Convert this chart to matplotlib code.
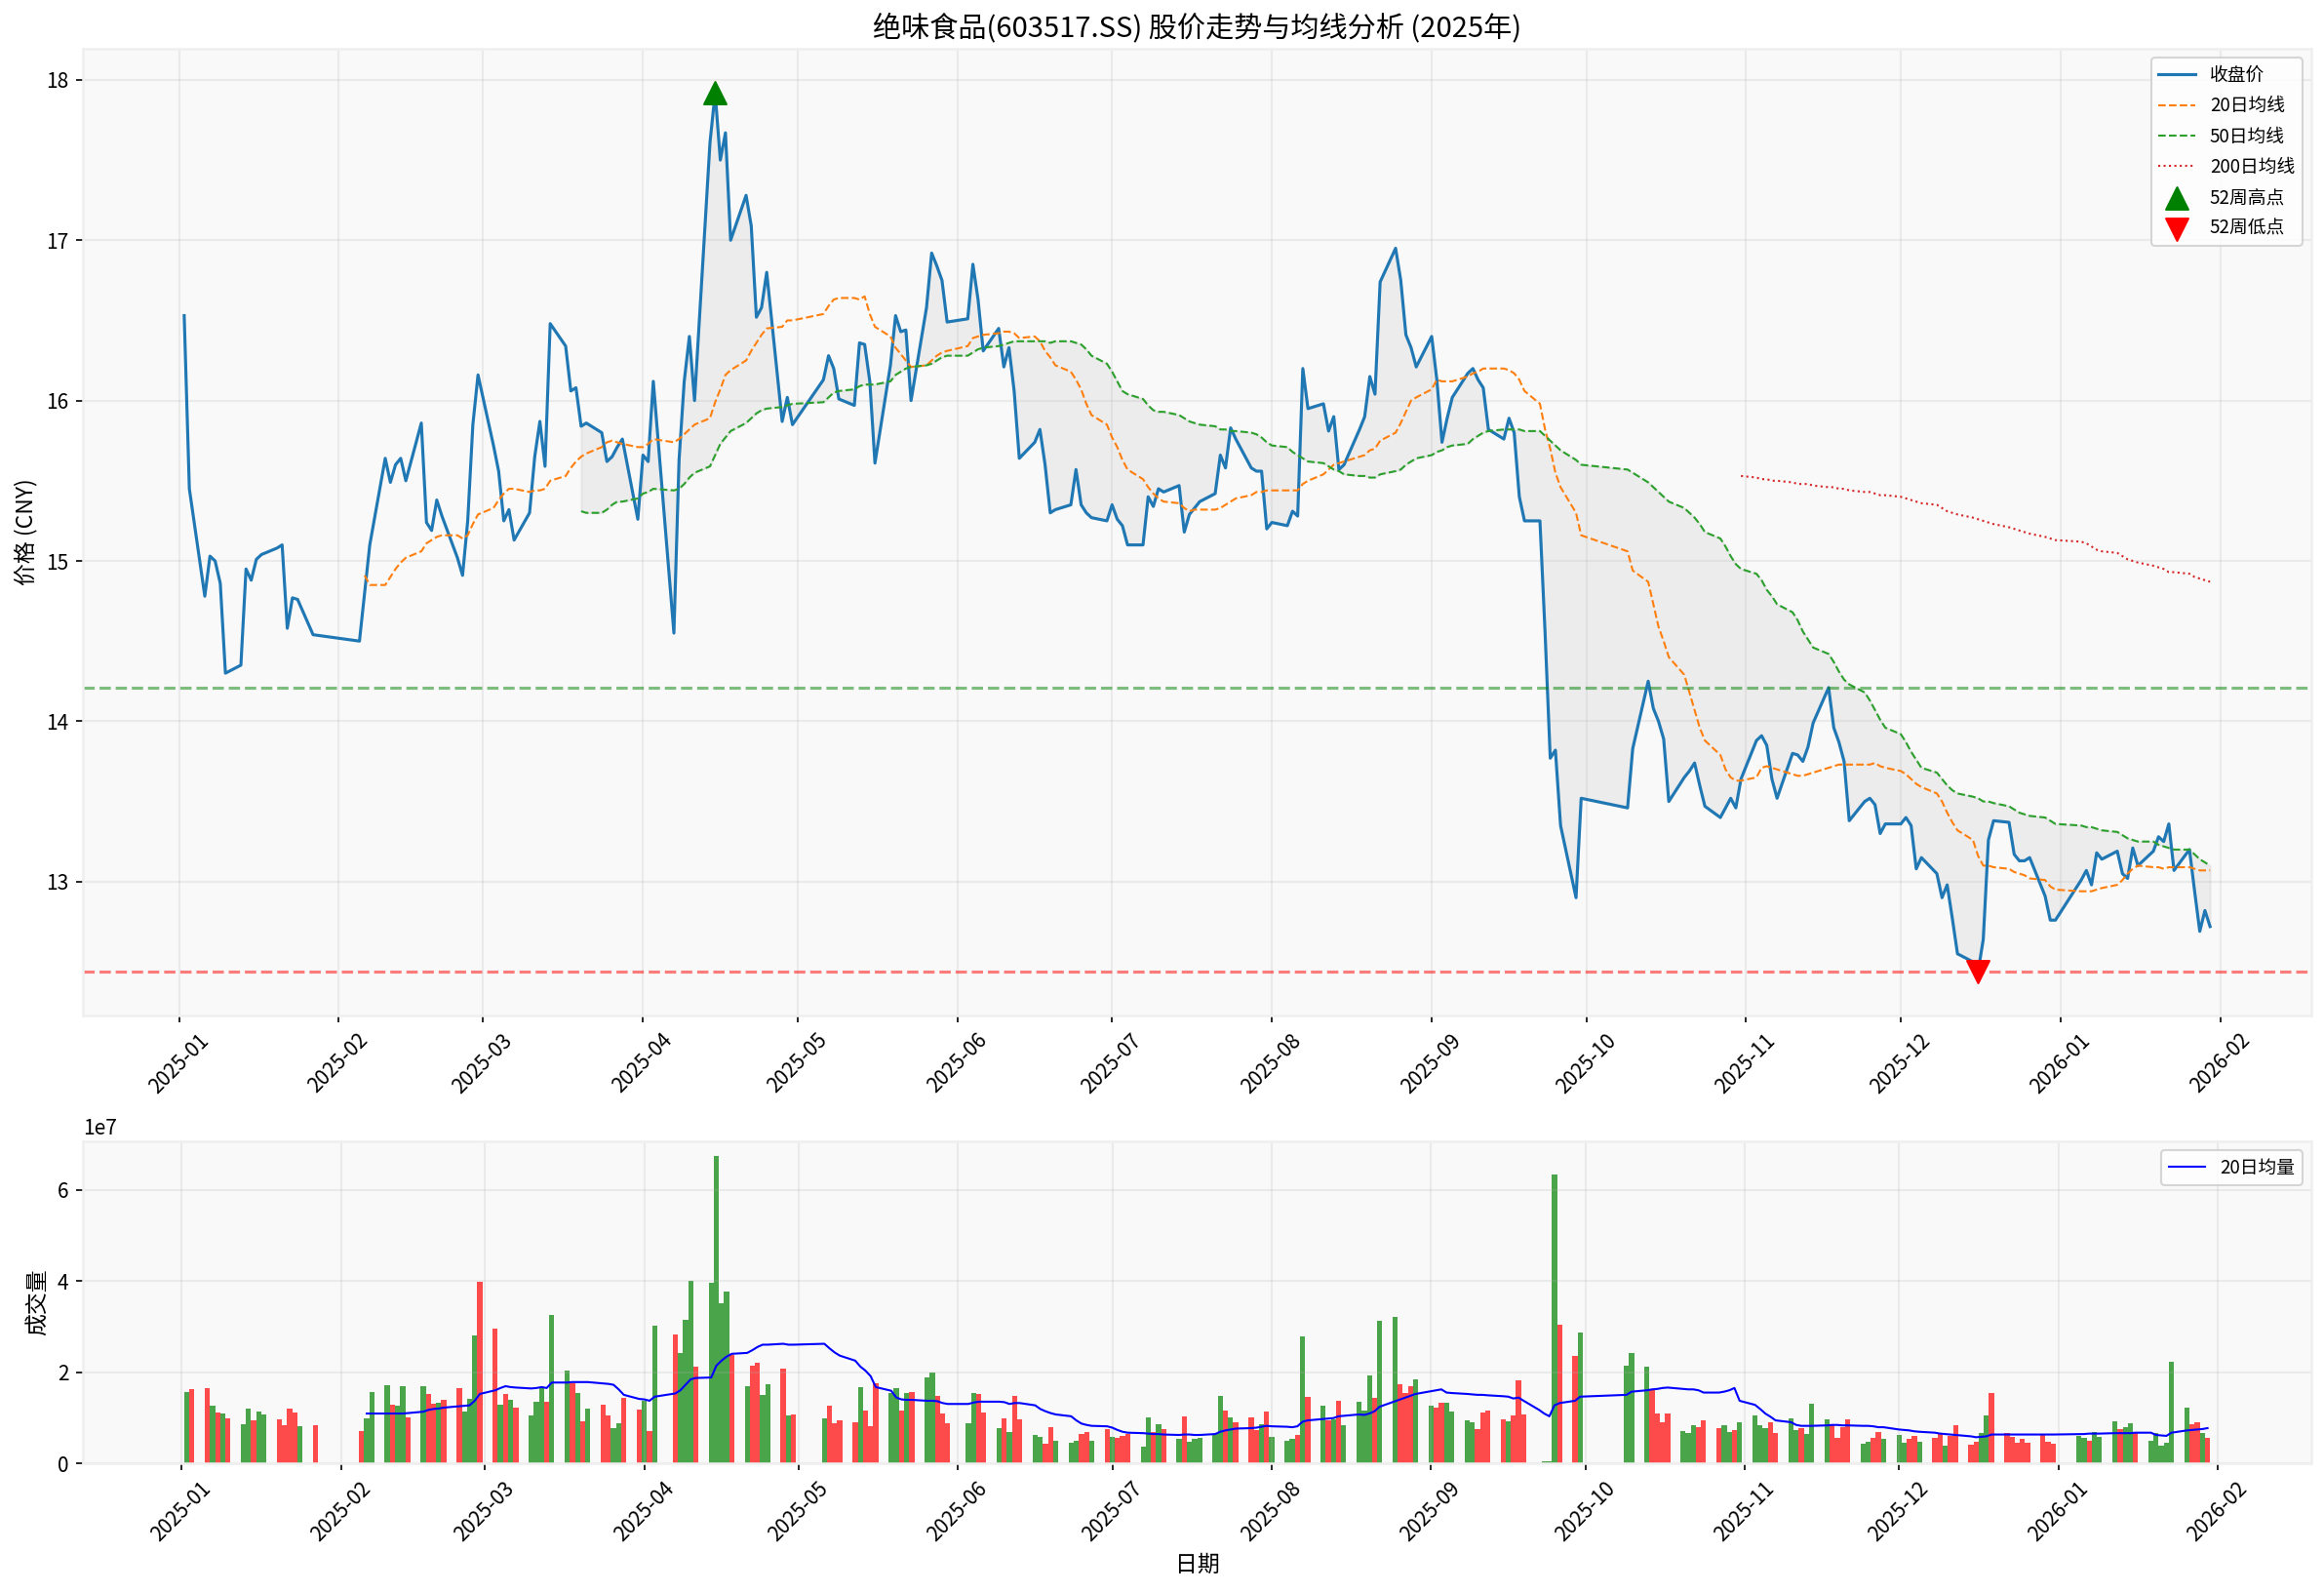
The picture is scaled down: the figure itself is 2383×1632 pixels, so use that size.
import pandas as pd
import matplotlib
matplotlib.use("Agg")
import matplotlib.pyplot as plt
import matplotlib.dates as mdates

plt.rcParams['font.family'] = ['Noto Sans CJK SC', 'DejaVu Sans']
plt.rcParams['axes.unicode_minus'] = False

HOLIDAYS = ['2025-01-01', '2025-01-28', '2025-01-29', '2025-01-30', '2025-01-31', '2025-02-03', '2025-02-04',
            '2025-04-04', '2025-05-01', '2025-05-02', '2025-05-05', '2025-06-02',
            '2025-10-01', '2025-10-02', '2025-10-03', '2025-10-06', '2025-10-07', '2025-10-08',
            '2026-01-01', '2026-01-02']

close = [
    16.53, 15.45,
    14.78, 15.03, 15.00, 14.86, 14.30,
    14.35, 14.95, 14.88, 15.01, 15.04,
    15.08, 15.10, 14.58, 14.77, 14.76,
    14.54,
    14.50, 14.80, 15.10,
    15.64, 15.49, 15.60, 15.64, 15.50,
    15.86, 15.24, 15.19, 15.38, 15.28,
    15.02, 14.91, 15.25, 15.85, 16.16,
    15.72, 15.56, 15.25, 15.32, 15.13,
    15.30, 15.65, 15.87, 15.59, 16.48,
    16.34, 16.06, 16.08, 15.84, 15.86,
    15.80, 15.62, 15.65, 15.71, 15.76,
    15.26, 15.66, 15.62, 16.12,
    14.55, 15.63, 16.12, 16.40, 16.00,
    17.61, 17.92, 17.50, 17.67, 17.00,
    17.28, 17.09, 16.52, 16.58, 16.80,
    15.87, 16.02, 15.85,
    16.13, 16.28, 16.20, 16.01,
    15.97, 16.36, 16.35, 16.12, 15.61,
    16.22, 16.53, 16.43, 16.44, 16.00,
    16.58, 16.92, 16.84, 16.75, 16.49,
    16.51, 16.85, 16.63, 16.31,
    16.45, 16.21, 16.33, 16.06, 15.64,
    15.74, 15.82, 15.60, 15.30, 15.32,
    15.35, 15.57, 15.35, 15.30, 15.27,
    15.25, 15.35, 15.26, 15.22, 15.10,
    15.10, 15.40, 15.34, 15.45, 15.43,
    15.47, 15.18, 15.29, 15.33, 15.37,
    15.42, 15.66, 15.58, 15.83, 15.76,
    15.58, 15.56, 15.56, 15.20, 15.24,
    15.22, 15.31, 15.28, 16.20, 15.95,
    15.98, 15.81, 15.90, 15.57, 15.60,
    15.82, 15.90, 16.15, 16.04, 16.74,
    16.95, 16.75, 16.41, 16.33, 16.21,
    16.40, 16.13, 15.74, 15.89, 16.02,
    16.17, 16.20, 16.13, 16.08, 15.82,
    15.76, 15.89, 15.80, 15.40, 15.25,
    15.25, 14.55, 13.77, 13.82, 13.35,
    12.90, 13.52,
    13.46, 13.83,
    14.25, 14.08, 14.00, 13.89, 13.50,
    13.65, 13.69, 13.74, 13.60, 13.47,
    13.40, 13.46, 13.52, 13.46, 13.64,
    13.88, 13.91, 13.85, 13.64, 13.52,
    13.80, 13.79, 13.75, 13.84, 13.99,
    14.21, 13.96, 13.87, 13.75, 13.38,
    13.50, 13.52, 13.48, 13.30, 13.36,
    13.36, 13.40, 13.35, 13.08, 13.15,
    13.05, 12.90, 12.98, 12.77, 12.55,
    12.50, 12.44, 12.64, 13.26, 13.38,
    13.37, 13.17, 13.13, 13.13, 13.15,
    12.91, 12.76, 12.76,
    13.01, 13.07, 12.98, 13.18, 13.14,
    13.19, 13.05, 13.02, 13.21, 13.10,
    13.19, 13.28, 13.25, 13.36, 13.07,
    13.20, 12.94, 12.69, 12.82, 12.72,
]

ma20 = [
    14.91, 14.85,
    14.85, 14.90, 14.95, 14.99, 15.02,
    15.06, 15.11, 15.13, 15.15, 15.16,
    15.16, 15.14, 15.16, 15.23, 15.29,
    15.33, 15.38, 15.42, 15.45, 15.45,
    15.43, 15.44, 15.44, 15.45, 15.50,
    15.53, 15.58, 15.62, 15.65, 15.67,
    15.71, 15.74, 15.75, 15.74, 15.73,
    15.71, 15.71, 15.73, 15.76,
    15.74, 15.76, 15.79, 15.82, 15.85,
    15.89, 15.99, 16.07, 16.16, 16.19,
    16.25, 16.31, 16.36, 16.41, 16.45,
    16.46, 16.50, 16.50,
    16.54, 16.59, 16.63, 16.64,
    16.64, 16.63, 16.65, 16.54, 16.46,
    16.40, 16.33, 16.29, 16.25, 16.21,
    16.22, 16.25, 16.28, 16.30, 16.31,
    16.34, 16.39, 16.40, 16.41,
    16.42, 16.43, 16.43, 16.42, 16.39,
    16.40, 16.37, 16.31, 16.27, 16.22,
    16.18, 16.13, 16.07, 15.98, 15.91,
    15.85, 15.77, 15.71, 15.63, 15.57,
    15.51, 15.46, 15.42, 15.39, 15.37,
    15.36, 15.33, 15.31, 15.32, 15.32,
    15.32, 15.33, 15.35, 15.37, 15.39,
    15.41, 15.43, 15.43, 15.44, 15.44,
    15.44, 15.44, 15.44, 15.48, 15.50,
    15.54, 15.57, 15.60, 15.61, 15.62,
    15.65, 15.66, 15.69, 15.70, 15.75,
    15.80, 15.86, 15.93, 16.00, 16.02,
    16.07, 16.13, 16.12, 16.12, 16.12,
    16.15, 16.17, 16.18, 16.20, 16.20,
    16.20, 16.19, 16.17, 16.13, 16.06,
    15.98, 15.82, 15.70, 15.55, 15.46,
    15.30, 15.16,
    15.06, 14.94,
    14.87, 14.73, 14.59, 14.50, 14.40,
    14.29, 14.18, 14.07, 13.96, 13.88,
    13.79, 13.70, 13.65, 13.63, 13.63,
    13.65, 13.71, 13.72, 13.71, 13.70,
    13.67, 13.66, 13.66, 13.67, 13.68,
    13.71, 13.72, 13.73, 13.73, 13.73,
    13.73, 13.73, 13.74, 13.72, 13.71,
    13.69, 13.67, 13.64, 13.61, 13.59,
    13.55, 13.50, 13.43, 13.37, 13.32,
    13.26, 13.16, 13.10, 13.10, 13.09,
    13.08, 13.06, 13.05, 13.04, 13.02,
    13.01, 12.97, 12.95,
    12.94, 12.94, 12.94, 12.95, 12.96,
    12.98, 13.01, 13.05, 13.08, 13.10,
    13.09, 13.09, 13.08, 13.09, 13.09,
    13.09, 13.08, 13.07, 13.07, 13.07,
]

ma50 = [
    15.31, 15.30,
    15.30, 15.32, 15.35, 15.37, 15.37,
    15.39, 15.42, 15.43, 15.45,
    15.44, 15.45, 15.48, 15.52, 15.55,
    15.59, 15.66, 15.73, 15.77, 15.81,
    15.86, 15.89, 15.92, 15.94, 15.95,
    15.96, 15.97, 15.98,
    15.99, 16.02, 16.05, 16.06,
    16.07, 16.09, 16.10, 16.10, 16.10,
    16.12, 16.16, 16.18, 16.20, 16.21,
    16.22, 16.23, 16.25, 16.27, 16.28,
    16.28, 16.30, 16.32, 16.33,
    16.34, 16.35, 16.36, 16.37, 16.37,
    16.37, 16.37, 16.37, 16.36, 16.37,
    16.37, 16.36, 16.35, 16.32, 16.28,
    16.23, 16.18, 16.12, 16.06, 16.04,
    16.01, 15.97, 15.94, 15.93, 15.93,
    15.91, 15.89, 15.87, 15.86, 15.85,
    15.84, 15.82, 15.82, 15.81, 15.81,
    15.80, 15.79, 15.77, 15.74, 15.72,
    15.71, 15.68, 15.66, 15.64, 15.62,
    15.61, 15.59, 15.57, 15.56, 15.54,
    15.53, 15.53, 15.52, 15.52, 15.54,
    15.56, 15.57, 15.60, 15.62, 15.64,
    15.66, 15.68, 15.69, 15.71, 15.72,
    15.73, 15.76, 15.78, 15.80, 15.81,
    15.82, 15.82, 15.82, 15.82, 15.81,
    15.81, 15.78, 15.75, 15.72, 15.69,
    15.63, 15.60,
    15.57, 15.55,
    15.49, 15.46, 15.43, 15.40, 15.37,
    15.33, 15.30, 15.27, 15.23, 15.18,
    15.14, 15.09, 15.03, 14.98, 14.95,
    14.92, 14.88, 14.82, 14.78, 14.73,
    14.68, 14.63, 14.56, 14.51, 14.46,
    14.42, 14.37, 14.31, 14.26, 14.23,
    14.18, 14.13, 14.07, 14.01, 13.96,
    13.92, 13.87, 13.81, 13.76, 13.71,
    13.68, 13.64, 13.60, 13.57, 13.55,
    13.53, 13.52, 13.50, 13.50, 13.49,
    13.47, 13.45, 13.43, 13.42, 13.41,
    13.40, 13.38, 13.36,
    13.35, 13.34, 13.34, 13.33, 13.32,
    13.31, 13.29, 13.27, 13.26, 13.25,
    13.25, 13.23, 13.22, 13.21, 13.20,
    13.20, 13.17, 13.14, 13.12, 13.10,
]

ma200 = [
    15.53,
    15.52, 15.51, 15.51, 15.50, 15.50,
    15.49, 15.48, 15.48, 15.48, 15.47,
    15.46, 15.46, 15.45, 15.45, 15.44,
    15.43, 15.43, 15.42, 15.41, 15.41,
    15.40, 15.39, 15.38, 15.37, 15.36,
    15.35, 15.33, 15.31, 15.30, 15.29,
    15.27, 15.26, 15.25, 15.24, 15.23,
    15.21, 15.20, 15.19, 15.18, 15.17,
    15.15, 15.14, 15.13,
    15.12, 15.11, 15.09, 15.07, 15.06,
    15.05, 15.03, 15.01, 15.00, 14.99,
    14.97, 14.96, 14.95, 14.93, 14.93,
    14.92, 14.90, 14.89, 14.88, 14.87,
]

# volume in units of 1e7
volume = [
    1.57, 1.62,
    1.65, 1.26, 1.11, 1.09, 0.98,
    0.85, 1.19, 0.94, 1.13, 1.07,
    0.96, 0.83, 1.19, 1.11, 0.81,
    0.83,
    0.70, 0.98, 1.57,
    1.71, 1.28, 1.27, 1.69, 1.00,
    1.69, 1.52, 1.30, 1.32, 1.39,
    1.65, 1.13, 1.41, 2.80, 3.98,
    2.95, 1.28, 1.52, 1.39, 1.22,
    1.04, 1.34, 1.65, 1.34, 3.25,
    2.03, 1.75, 1.54, 0.92, 1.19,
    1.28, 1.04, 0.77, 0.87, 1.43,
    1.17, 1.37, 0.70, 3.02,
    2.83, 2.42, 3.15, 4.01, 2.12,
    3.96, 6.73, 3.51, 3.77, 2.37,
    1.69, 2.14, 2.20, 1.50, 1.73,
    2.07, 1.04, 1.07,
    0.98, 1.26, 0.87, 0.94,
    0.89, 1.67, 1.15, 0.81, 1.75,
    1.54, 1.65, 1.15, 1.54, 1.56,
    1.88, 1.99, 1.47, 1.09, 0.87,
    0.87, 1.54, 1.52, 1.11,
    0.77, 0.98, 0.68, 1.47, 0.96,
    0.62, 0.57, 0.42, 0.79, 0.49,
    0.44, 0.49, 0.64, 0.68, 0.49,
    0.74, 0.57, 0.55, 0.59, 0.64,
    0.36, 1.00, 0.68, 0.85, 0.74,
    0.53, 1.02, 0.46, 0.53, 0.55,
    0.64, 1.47, 1.15, 1.00, 0.89,
    1.00, 0.72, 0.85, 1.13, 0.57,
    0.49, 0.53, 0.62, 2.78, 1.45,
    1.26, 0.94, 0.96, 1.37, 0.83,
    1.34, 1.15, 1.92, 1.43, 3.13,
    3.21, 1.73, 1.54, 1.69, 1.84,
    1.26, 1.22, 1.32, 1.32, 1.13,
    0.94, 0.89, 0.74, 1.11, 1.15,
    0.96, 0.92, 1.04, 1.82, 1.07,
    0.00, 0.04, 0.04, 6.34, 3.04,
    2.35, 2.87,
    2.14, 2.42,
    2.12, 1.60, 1.09, 0.89, 1.09,
    0.70, 0.66, 0.83, 0.79, 0.94,
    0.77, 0.83, 0.68, 0.72, 0.89,
    1.04, 0.83, 0.77, 0.89, 0.66,
    0.98, 0.72, 0.77, 0.64, 1.30,
    0.96, 0.83, 0.55, 0.79, 0.96,
    0.42, 0.46, 0.55, 0.68, 0.53,
    0.62, 0.44, 0.53, 0.59, 0.46,
    0.55, 0.66, 0.38, 0.59, 0.83,
    0.40, 0.46, 0.66, 1.04, 1.54,
    0.66, 0.57, 0.44, 0.53, 0.44,
    0.62, 0.46, 0.42,
    0.59, 0.55, 0.49, 0.68, 0.57,
    0.92, 0.74, 0.79, 0.87, 0.66,
    0.49, 0.66, 0.38, 0.44, 2.22,
    1.22, 0.85, 0.89, 0.66, 0.55,
]

# one letter per trading day, g = green bar, r = red bar
bar_sides = (
    "gr" "rgrgr" "ggrgg" "rrrrg" "r"
    "rgg" "grggr" "grrgr" "rgggr"
    "rgrgr" "gggrg" "grgrg" "rrggr" "rgrg"
    "rgggr" "ggggr" "grrgg" "rgr"
    "grrr" "rgrrr" "ggrgr" "ggrrr"
    "ggrr" "grgrr" "ggrrg" "ggrrg" "rgrrr"
    "ggrgr" "grggg" "ggrgr" "rrgrg"
    "ggrgr" "grgrg" "gggrg" "grrrg"
    "grrgg" "ggrrr" "rgrrr" "ggggr" "rg"
    "gg" "grrrr" "gggrr" "rggrg"
    "gggrr" "ggrgg" "grrrr" "ggrrg"
    "ggrrg" "rrgrr" "rrggr" "rrrrr" "rrr"
    "ggrgg" "grggr" "ggggg" "grrgr"
)

volume_ma20 = [
    1.09, 1.09,
    1.09, 1.09, 1.09, 1.09, 1.10,
    1.13, 1.17, 1.19, 1.20, 1.22,
    1.25, 1.26, 1.27, 1.37, 1.52,
    1.60, 1.65, 1.69, 1.67, 1.66,
    1.64, 1.65, 1.67, 1.65, 1.77,
    1.77, 1.78, 1.78, 1.78, 1.78,
    1.75, 1.74, 1.72, 1.62, 1.50,
    1.41, 1.40, 1.37, 1.46,
    1.53, 1.60, 1.72, 1.84, 1.87,
    1.88, 2.14, 2.25, 2.34, 2.40,
    2.42, 2.48, 2.55, 2.60, 2.60,
    2.62, 2.60, 2.60,
    2.62, 2.52, 2.43, 2.36,
    2.25, 2.12, 2.03, 1.91, 1.67,
    1.59, 1.44, 1.40, 1.39, 1.39,
    1.37, 1.37, 1.36, 1.32, 1.30,
    1.30, 1.33, 1.35, 1.35,
    1.35, 1.34, 1.30, 1.32, 1.32,
    1.27, 1.19, 1.14, 1.10, 1.07,
    1.03, 0.94, 0.87, 0.84, 0.82,
    0.81, 0.78, 0.73, 0.69, 0.67,
    0.66, 0.65, 0.64, 0.64, 0.63,
    0.62, 0.63, 0.63, 0.62, 0.62,
    0.64, 0.69, 0.72, 0.74, 0.76,
    0.77, 0.78, 0.80, 0.82, 0.81,
    0.80, 0.79, 0.81, 0.91, 0.94,
    0.97, 0.98, 0.99, 1.03, 1.04,
    1.07, 1.06, 1.09, 1.14, 1.24,
    1.36, 1.40, 1.44, 1.48, 1.52,
    1.58, 1.60, 1.62, 1.55, 1.54,
    1.52, 1.51, 1.50, 1.50, 1.49,
    1.47, 1.46, 1.42, 1.44, 1.37,
    1.17, 1.09, 1.03, 1.27, 1.32,
    1.37, 1.46,
    1.50, 1.57,
    1.60, 1.62, 1.63, 1.65, 1.66,
    1.63, 1.62, 1.62, 1.60, 1.55,
    1.55, 1.57, 1.60, 1.65, 1.37,
    1.28, 1.19, 1.09, 1.02, 0.94,
    0.90, 0.84, 0.82, 0.82, 0.82,
    0.83, 0.84, 0.84, 0.83, 0.83,
    0.82, 0.82, 0.81, 0.79, 0.79,
    0.74, 0.73, 0.72, 0.70, 0.69,
    0.67, 0.65, 0.64, 0.63, 0.62,
    0.59, 0.57, 0.58, 0.59, 0.63,
    0.63, 0.63, 0.63, 0.63, 0.63,
    0.63, 0.63, 0.63,
    0.64, 0.64, 0.65, 0.65, 0.65,
    0.66, 0.66, 0.66, 0.66, 0.67,
    0.67, 0.62, 0.61, 0.60, 0.67,
    0.72, 0.73, 0.74, 0.75, 0.77,
]

high_52w = 17.92
low_52w = 12.44
high_date = '2025-04-15'
low_date = '2025-12-16'
green_line = 14.21

dates = pd.bdate_range('2025-01-01', '2026-01-30')
dates = dates[~dates.isin(pd.to_datetime(HOLIDAYS))]

fig, (ax1, ax2) = plt.subplots(2, 1, figsize=(15.887, 10.88), dpi=150,
                               gridspec_kw={'height_ratios': [3, 1]})
fig.subplots_adjust(left=85 / 2383, right=2370 / 2383, top=1 - 50 / 1632, bottom=1 - 1500 / 1632, hspace=0.195)

for ax in (ax1, ax2):
    ax.set_facecolor('#f9f9f9')
    ax.grid(True, color='#b0b0b0', alpha=0.2, linewidth=1)
    for spine in ax.spines.values():
        spine.set_color('#efefef')
        spine.set_linewidth(1.2)
    ax.xaxis.set_major_locator(mdates.MonthLocator())
    ax.xaxis.set_major_formatter(mdates.DateFormatter('%Y-%m'))
    ax.tick_params(axis='x', rotation=45)

ax1.plot(dates, close, color='#1f77b4', linewidth=1.5, label='收盘价')
ax1.plot(dates[19:], ma20, color='#ff7f0e', linewidth=1, linestyle='--', label='20日均线')
ax1.plot(dates[49:], ma50, color='#2ca02c', linewidth=1, linestyle='--', label='50日均线')
ax1.plot(dates[199:], ma200, color='#d62728', linewidth=1, linestyle=':', label='200日均线')
ax1.fill_between(dates[49:], close[49:], ma50, color='gray', alpha=0.1)
ax1.scatter(pd.Timestamp(high_date), high_52w, color='green', marker='^', s=120, zorder=5, label='52周高点')
ax1.scatter(pd.Timestamp(low_date), low_52w, color='red', marker='v', s=120, zorder=5, label='52周低点')
ax1.axhline(green_line, color='green', linestyle='--', alpha=0.5)
ax1.axhline(low_52w, color='red', linestyle='--', alpha=0.5)
ax1.set_title('绝味食品(603517.SS) 股价走势与均线分析 (2025年)', fontsize=14)
ax1.set_ylabel('价格 (CNY)', fontsize=11)
ax1.legend(loc='upper right', fontsize=9, labelspacing=0.55)

bar_colors = ['green' if s == 'g' else 'red' for s in bar_sides]
ax2.bar(dates, [v * 1e7 for v in volume], width=1, color=bar_colors, alpha=0.7)
ax2.plot(dates[19:], [v * 1e7 for v in volume_ma20], color='blue', linewidth=1, label='20日均量')
ax2.set_ylabel('成交量', fontsize=11)
ax2.set_xlabel('日期', fontsize=11)
ax2.legend(loc='upper right', fontsize=9)

fig.savefig('out.png', dpi=150)
